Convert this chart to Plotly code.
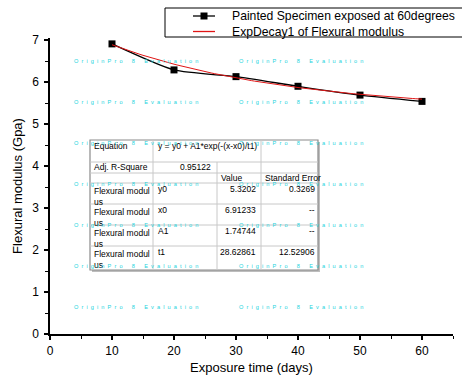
import math
import plotly.graph_objects as go

# ---------------- data ----------------
days = [10, 20, 30, 40, 50, 60]
modulus = [6.91, 6.29, 6.13, 5.90, 5.69, 5.54]

# ExpDecay1 fit parameters (from the fit table)
y0 = 5.3202
x0 = 6.91233
A1 = 1.74744
t1 = 28.62861
fit_x = [10 + i * 0.5 for i in range(101)]

series_name = "Painted Specimen exposed at 60degrees"
fit_name = "ExpDecay1 of Flexural modulus"

eq_text = "y = y0 + A1*exp(-(x-x0)/t1)"
adj_r2 = "0.95122"
param_label = "Flexural modul<br>us"
param_names = ["y0", "x0", "A1", "t1"]
param_values = ["5.3202", "6.91233", "1.74744", "28.62861"]
param_errors = ["0.3269", "--", "--", "12.52906"]

watermark_words = ["OriginPro", "8", "Evaluation"]

# ---------------- layout geometry (pixels) ----------------
W, H = 462, 376
ML, MR, MT, MB = 50, 9, 38, 42
PW, PH = W - ML - MR, H - MT - MB

fit_y = [y0 + A1 * math.exp(-(x - x0) / t1) for x in fit_x]


def px(x):
    return (x - ML) / PW


def py(y):
    return (H - MB - y) / PH


FONT = "Arial, Liberation Sans, sans-serif"
RED = "#e01515"

fig = go.Figure()
fig.add_trace(go.Scatter(
    x=days, y=modulus, name=series_name, mode="lines+markers",
    line=dict(color="black", width=1.3, shape="spline", smoothing=0.6),
    marker=dict(symbol="square", size=7, color="black"),
    showlegend=False,
))
fig.add_trace(go.Scatter(
    x=fit_x, y=fit_y, name=fit_name, mode="lines",
    line=dict(color=RED, width=1),
    showlegend=False,
))

shapes = []
annotations = []


def hline(y, x1, x2, color="#c8c8c8", w=1):
    shapes.append(dict(type="line", xref="paper", yref="paper",
                       x0=px(x1), x1=px(x2), y0=py(y), y1=py(y),
                       line=dict(color=color, width=w), layer="above"))


def vline(x, y1, y2, color="#c8c8c8", w=1):
    shapes.append(dict(type="line", xref="paper", yref="paper",
                       x0=px(x), x1=px(x), y0=py(y1), y1=py(y2),
                       line=dict(color=color, width=w), layer="above"))


def txt(x, y, t, anchor="left", size=8.5, yanchor="middle"):
    annotations.append(dict(xref="paper", yref="paper", x=px(x), y=py(y),
                            text=t, showarrow=False, xanchor=anchor, yanchor=yanchor,
                            font=dict(family=FONT, size=size, color="black"),
                            align="left"))


# ---- legend (drawn box, entries) ----
shapes.append(dict(type="rect", xref="paper", yref="paper",
                   x0=px(165), x1=px(475), y0=py(37), y1=py(8),
                   fillcolor="white", line=dict(color="black", width=1), layer="above"))
hline(16, 193, 215, color="black", w=1.3)
shapes.append(dict(type="rect", xref="paper", yref="paper",
                   x0=px(200.5), x1=px(207.5), y0=py(19.5), y1=py(12.5),
                   fillcolor="black", line=dict(width=0), layer="above"))
hline(31.5, 193, 215, color=RED, w=1.3)
txt(230, 16, series_name, size=12.2)
txt(230, 31.5, fit_name, size=12.2)

# ---- fit table ----
TL, TR, TT, TB = 90, 318, 140, 270
shapes.append(dict(type="rect", xref="paper", yref="paper",
                   x0=px(TL + 2), x1=px(TR + 2), y0=py(TB + 2), y1=py(TT + 2),
                   fillcolor="#bdbdbd", line=dict(width=0), layer="above"))
shapes.append(dict(type="rect", xref="paper", yref="paper",
                   x0=px(TL), x1=px(TR), y0=py(TB), y1=py(TT),
                   fillcolor="white", line=dict(color="#8a8a8a", width=1.2), layer="above"))

row_tops = [140, 162, 173, 183, 204, 225, 246]
for y in row_tops[1:]:
    hline(y, TL, TR)
vline(153, TT, TB)
vline(217, 162, TB)
vline(261, TT, TB)

txt(92, 146, "Equation")
txt(156, 146, eq_text)
txt(92, 166.5, "Adj. R-Square")
txt(213, 166.5, adj_r2, "right")
txt(219, 178, "Value")
txt(263, 178, "Standard Error")
for i in range(4):
    top = row_tops[3 + i]
    txt(92, top + 1, param_label, yanchor="top")
    txt(156, top + 6, param_names[i])
    txt(258, top + 6, param_values[i], "right")
    txt(317, top + 6, param_errors[i], "right")

# ---- watermarks ----
sp = "&nbsp;"
watermark = (sp * 6).join((sp * 2).join(list(w)) for w in watermark_words)
for wy in [61, 102, 143, 184, 225, 266, 307]:
    for wx in [72, 237]:
        annotations.append(dict(xref="paper", yref="paper", x=px(wx), y=py(wy),
                                text=watermark, showarrow=False, xanchor="left",
                                yanchor="middle",
                                font=dict(family=FONT, size=5.6, color="#22d3dd")))

fig.update_layout(
    width=W, height=H,
    margin=dict(l=ML, r=MR, t=MT, b=MB, pad=0, autoexpand=False),
    paper_bgcolor="white", plot_bgcolor="white",
    font=dict(family=FONT, color="black"),
    showlegend=False,
    xaxis=dict(range=[0, 65], tick0=0, dtick=10, showgrid=False, zeroline=False,
               automargin=False,
               showline=True, linecolor="black", linewidth=1.5,
               ticks="outside", ticklen=4, tickwidth=1.5, tickcolor="black",
               ticklabelstandoff=1,
               minor=dict(dtick=5, ticks="outside", ticklen=3, tickwidth=1.2, tickcolor="black"),
               tickfont=dict(family=FONT, size=12, color="black"),
               title=dict(text="Exposure time (days)", standoff=6,
                          font=dict(family=FONT, size=13, color="black"))),
    yaxis=dict(range=[0, 7.05], tick0=0, dtick=1, showgrid=False, zeroline=False,
               automargin=False,
               showline=True, linecolor="black", linewidth=1.5,
               ticks="outside", ticklen=4, tickwidth=1.5, tickcolor="black",
               ticklabelstandoff=3,
               minor=dict(dtick=0.5, ticks="outside", ticklen=3, tickwidth=1.2, tickcolor="black"),
               tickfont=dict(family=FONT, size=12, color="black"),
               title=dict(text="Flexural modulus (Gpa)", standoff=7,
                          font=dict(family=FONT, size=13, color="black"))),
    shapes=shapes,
    annotations=annotations,
)

fig.write_html("out.html")
